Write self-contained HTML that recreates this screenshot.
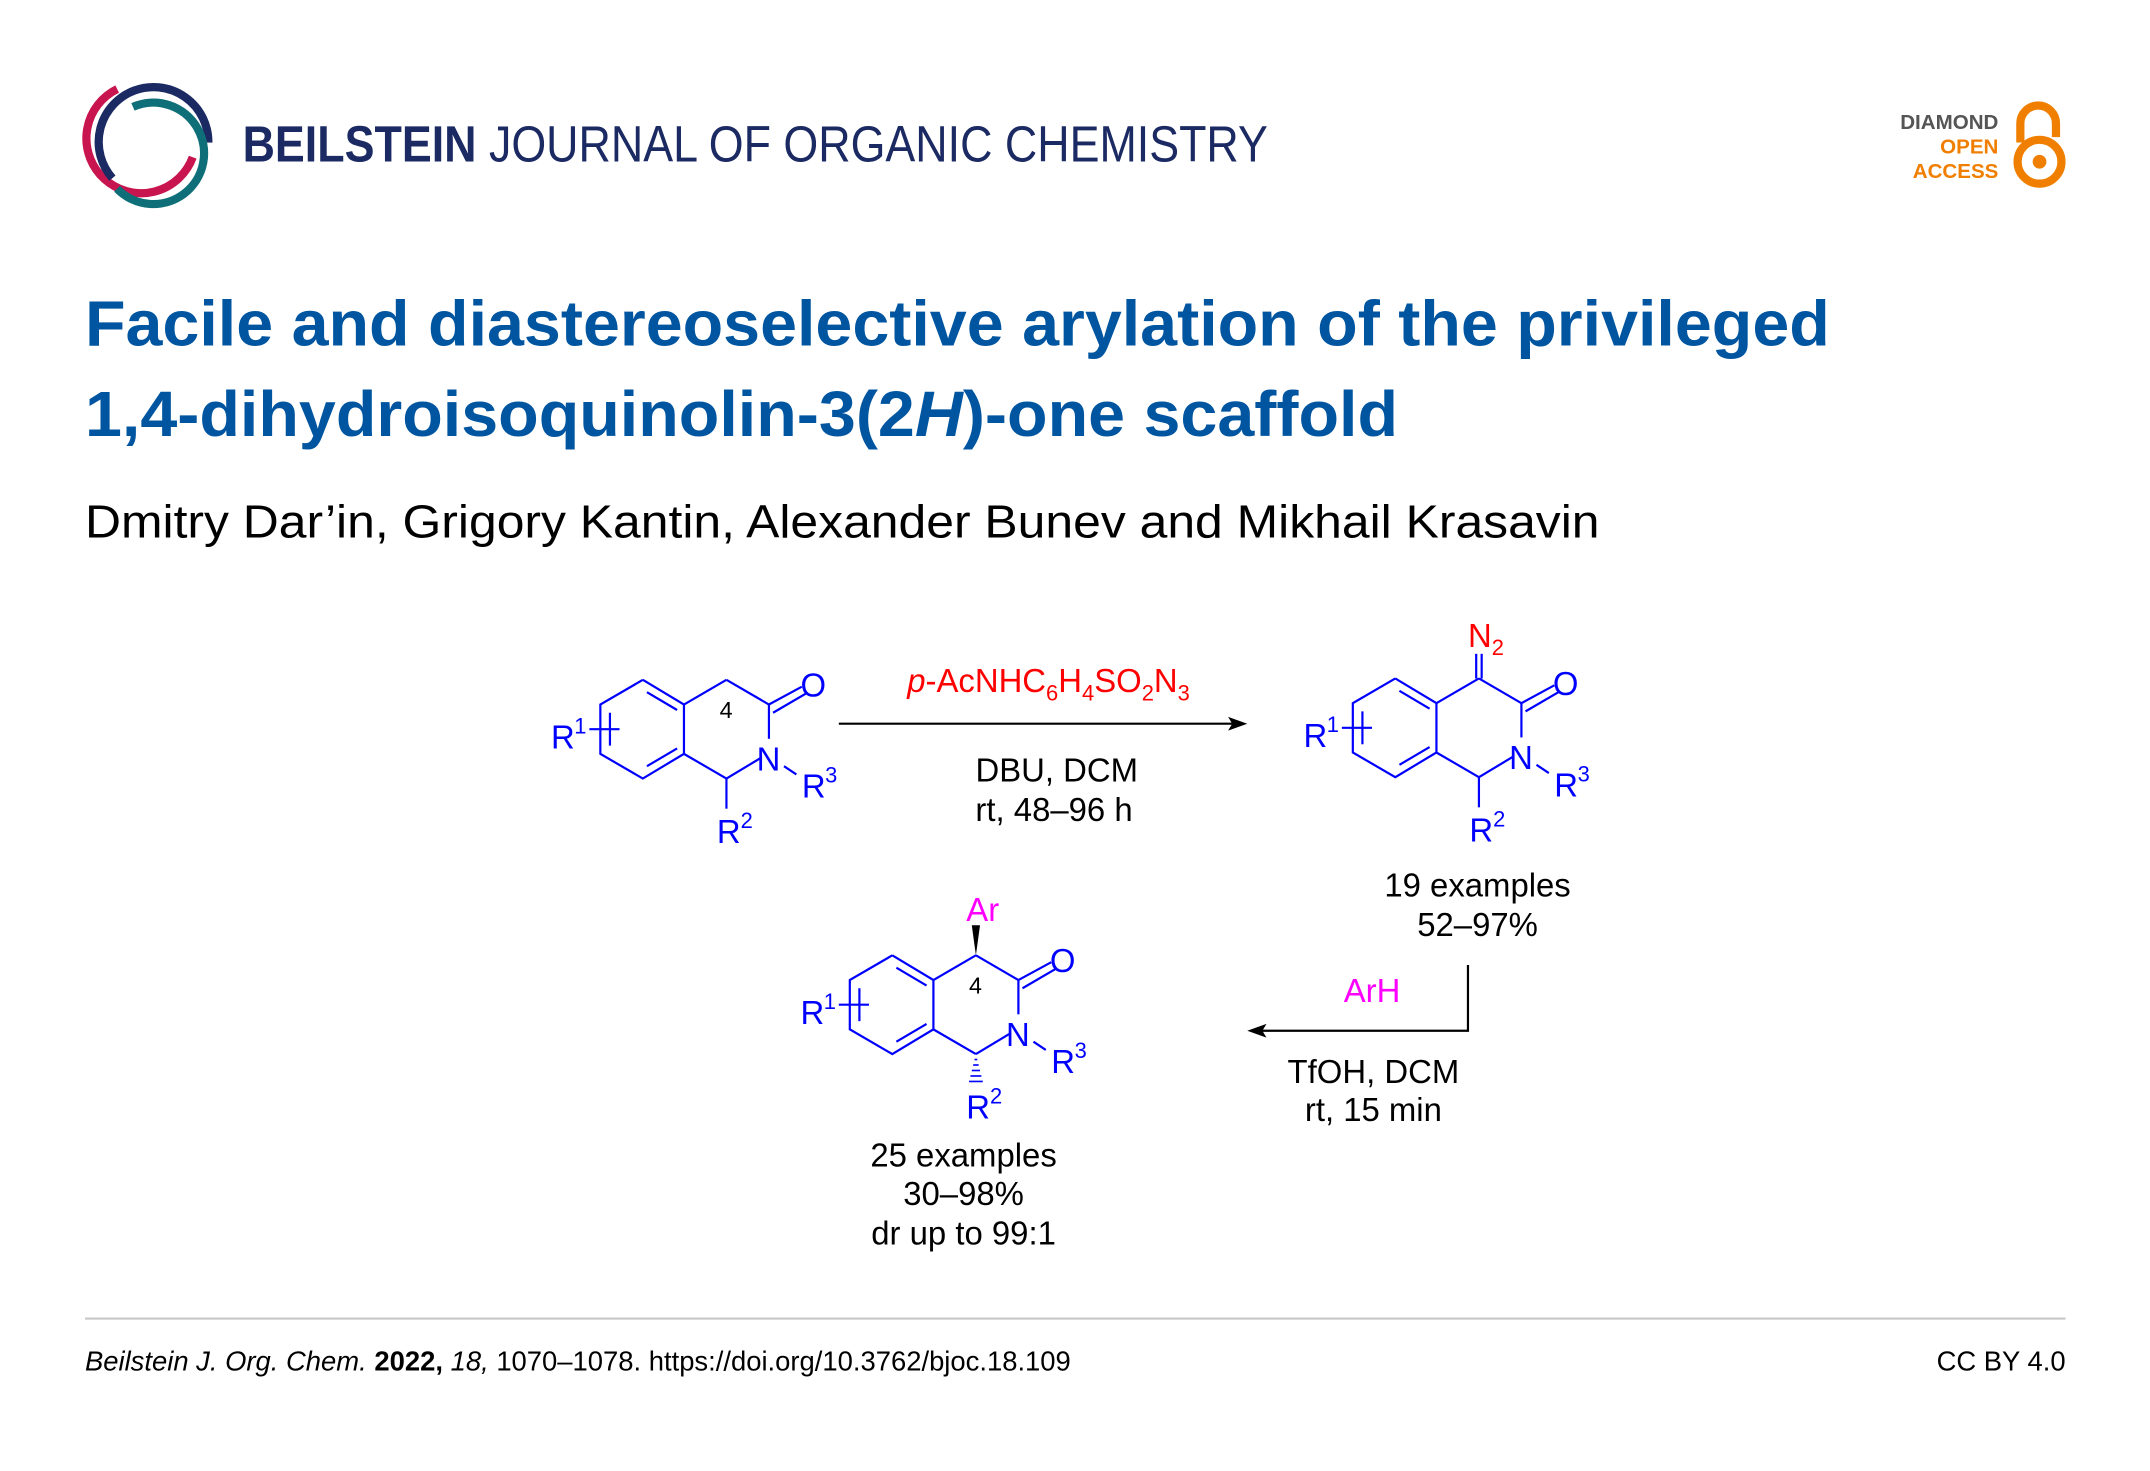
<!DOCTYPE html>
<html><head><meta charset="utf-8"><style>html,body{margin:0;padding:0;background:#fff}svg{display:block}</style></head>
<body>
<svg width="2150" height="1471" viewBox="0 0 1568.6 1073.2" preserveAspectRatio="none" xmlns="http://www.w3.org/2000/svg" font-family="Liberation Sans, Arial, sans-serif">
<defs>
<g id="core" stroke="#0000ff" stroke-width="1.6" fill="none">
  <polyline points="469,496 499,514 499,550 469,568 438,550 438,514 469,496"/>
  <line x1="472" y1="505" x2="494" y2="518"/>
  <line x1="494" y1="546" x2="472" y2="559"/>
  <line x1="445" y1="520" x2="445" y2="544"/>
  <line x1="430" y1="532" x2="452" y2="532"/>
  <line x1="499" y1="550" x2="530" y2="568"/>
  <line x1="530" y1="568" x2="555" y2="553"/>
  <line x1="561" y1="514" x2="561" y2="539"/>
  <line x1="572" y1="559" x2="581" y2="565"/>
  <line x1="561" y1="514" x2="585" y2="501"/>
  <line x1="564" y1="520" x2="588" y2="506"/>
</g>
<g id="labels" fill="#0000ff" font-size="24">
  <text x="402" y="546">R</text><text x="419" y="535" font-size="16">1</text>
  <text x="552" y="562">N</text>
  <text x="585" y="582">R</text><text x="602" y="571" font-size="16">3</text>
  <text x="584" y="508">O</text>
</g>
</defs>
<!-- logo -->
<g fill="none" stroke-linecap="butt">
  <path d="M 85.5 65 A 40 40 0 1 0 140.6 114.7" stroke="#c8154f" stroke-width="6"/>
  <path d="M 82 130 A 40 40 0 1 1 152 104" stroke="#1b2a63" stroke-width="6"/>
  <path d="M 97 78 A 37 37 0 1 1 85.4 137.7" stroke="#0e6f78" stroke-width="6"/>
</g>
<text x="177" y="118" font-size="37" fill="#1b2a63" textLength="748" lengthAdjust="spacingAndGlyphs"><tspan font-weight="bold">BEILSTEIN</tspan> JOURNAL OF ORGANIC CHEMISTRY</text>
<g font-size="15" font-weight="bold" text-anchor="end">
  <text x="1458" y="94" fill="#555">DIAMOND</text>
  <text x="1458" y="112" fill="#f07f00">OPEN</text>
  <text x="1458" y="130" fill="#f07f00">ACCESS</text>
</g>
<g fill="none" stroke="#f07f00" stroke-width="6">
  <path d="M 1474 104 L 1474 90 A 13 13 0 0 1 1500 90 L 1500 100"/>
  <circle cx="1488" cy="118" r="16"/>
</g>
<circle cx="1488" cy="118" r="5" fill="#f07f00"/>
<g fill="#0055a0" font-weight="bold" font-size="47">
  <text x="62" y="252" textLength="1273" lengthAdjust="spacingAndGlyphs">Facile and diastereoselective arylation of the privileged</text>
  <text x="62" y="318" textLength="958" lengthAdjust="spacingAndGlyphs">1,4-dihydroisoquinolin-3(2<tspan font-style="italic">H</tspan>)-one scaffold</text>
</g>
<text x="62" y="392" font-size="34" fill="#000" textLength="1105" lengthAdjust="spacingAndGlyphs">Dmitry Dar’in, Grigory Kantin, Alexander Bunev and Mikhail Krasavin</text>

<!-- left molecule -->
<use href="#core"/>
<g stroke="#0000ff" stroke-width="1.6"><line x1="499" y1="514" x2="530" y2="496"/><line x1="530" y1="496" x2="561" y2="514"/><line x1="530" y1="568" x2="530" y2="590"/></g>
<use href="#labels"/>
<text x="525" y="524" font-size="17" fill="#000">4</text>
<text x="523" y="615" font-size="24" fill="#0000ff">R<tspan font-size="16" dy="-11">2</tspan></text>

<!-- arrow 1 -->
<line x1="612" y1="528" x2="900" y2="528" stroke="#000" stroke-width="1.6"/>
<polygon points="910,528 896,523 899,528 896,533" fill="#000"/>
<text x="765" y="505" font-size="24" fill="#ff0000" text-anchor="middle"><tspan font-style="italic">p</tspan>-AcNHC<tspan font-size="16" dy="6">6</tspan><tspan dy="-6">H</tspan><tspan font-size="16" dy="6">4</tspan><tspan dy="-6">SO</tspan><tspan font-size="16" dy="6">2</tspan><tspan dy="-6">N</tspan><tspan font-size="16" dy="6">3</tspan></text>
<g font-size="24" fill="#000" text-anchor="middle">
  <text x="771" y="570">DBU, DCM</text>
  <text x="769" y="599">rt, 48–96 h</text>
</g>

<!-- right molecule -->
<g transform="translate(549,-1)">
  <use href="#core"/>
  <g stroke="#0000ff" stroke-width="1.6"><line x1="499" y1="514" x2="530" y2="496"/><line x1="530" y1="496" x2="561" y2="514"/><line x1="530" y1="568" x2="530" y2="590"/></g>
  <use href="#labels"/>
  <text x="523" y="615" font-size="24" fill="#0000ff">R<tspan font-size="16" dy="-11">2</tspan></text>
</g>
<g stroke="#0000ff" stroke-width="1.6"><line x1="1077" y1="495" x2="1077" y2="477"/><line x1="1081" y1="495" x2="1081" y2="477"/></g>
<text x="1071" y="472" font-size="24" fill="#ff0000">N<tspan font-size="16" dy="6">2</tspan></text>
<g font-size="24" fill="#000" text-anchor="middle">
  <text x="1078" y="654">19 examples</text>
  <text x="1078" y="683">52–97%</text>
</g>

<!-- arrow 2 -->
<polyline points="1071,704 1071,752 920,752" fill="none" stroke="#000" stroke-width="1.6"/>
<polygon points="910,752 924,747 921,752 924,757" fill="#000"/>
<text x="1001" y="731" font-size="24" fill="#ff00ff" text-anchor="middle">ArH</text>
<g font-size="24" fill="#000" text-anchor="middle">
  <text x="1002" y="790">TfOH, DCM</text>
  <text x="1002" y="818">rt, 15 min</text>
</g>

<!-- bottom molecule -->
<g transform="translate(182,201)">
  <use href="#core"/>
  <g stroke="#0000ff" stroke-width="1.6"><line x1="499" y1="514" x2="530" y2="496"/><line x1="530" y1="496" x2="561" y2="514"/></g>
  <use href="#labels"/>
  <polygon points="530,496 527,474 533,474" fill="#000"/>
  <g stroke="#0000ff" stroke-width="1.2">
    <line x1="529" y1="572" x2="531" y2="572"/><line x1="528" y1="576" x2="532" y2="576"/><line x1="527" y1="580" x2="533" y2="580"/><line x1="526" y1="584" x2="534" y2="584"/><line x1="525" y1="588" x2="535" y2="588"/>
  </g>
  <text x="525" y="524" font-size="17" fill="#000">4</text>
  <text x="523" y="615" font-size="24" fill="#0000ff">R<tspan font-size="16" dy="-11">2</tspan></text>
  <text x="523" y="471" font-size="24" fill="#ff00ff">Ar</text>
</g>
<g font-size="24" fill="#000" text-anchor="middle">
  <text x="703" y="851">25 examples</text>
  <text x="703" y="879">30–98%</text>
  <text x="703" y="908">dr up to 99:1</text>
</g>

<!-- footer -->
<line x1="62" y1="962" x2="1507" y2="962" stroke="#c8c8c8" stroke-width="1.5"/>
<text x="62" y="1000" font-size="20" fill="#000"><tspan font-style="italic">Beilstein J. Org. Chem.</tspan> <tspan font-weight="bold">2022,</tspan> <tspan font-style="italic">18,</tspan> 1070–1078. https://doi.org/10.3762/bjoc.18.109</text>
<text x="1507" y="1000" font-size="20" fill="#000" text-anchor="end">CC BY 4.0</text>
</svg>
</body></html>
